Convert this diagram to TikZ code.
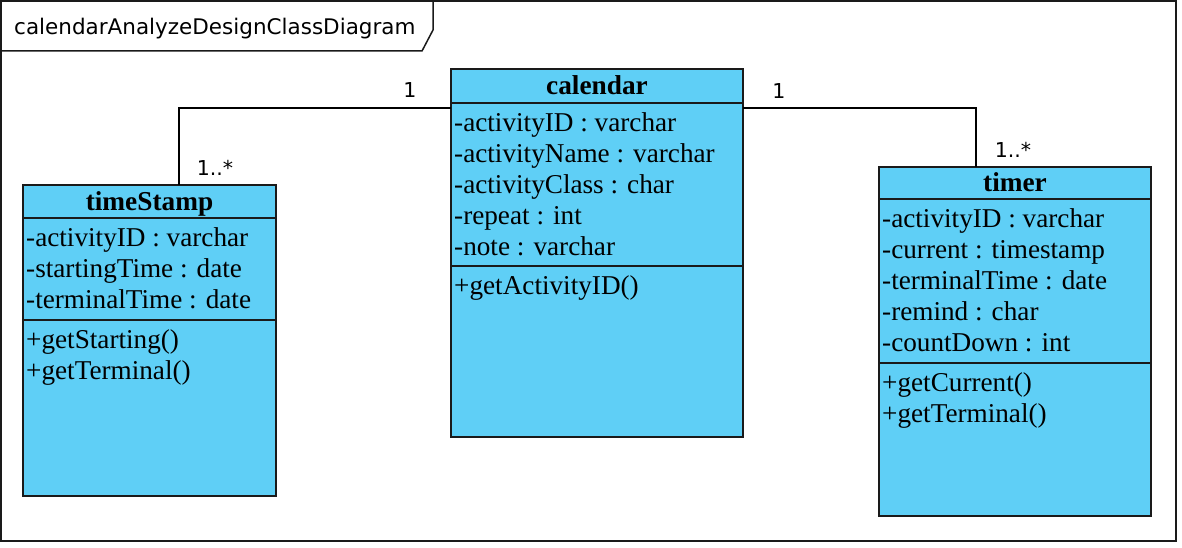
\documentclass[tikz,border=0pt]{standalone}
\usepackage{fontspec}
\setmainfont{Liberation Serif}
\setsansfont{DejaVu Sans}
\usetikzlibrary{positioning}
\definecolor{c_blue}{HTML}{5FCFF6}
\definecolor{c_line}{HTML}{1A1A1A}
\tikzstyle{head} = [rectangle, draw=c_line, fill=c_blue, line width=1.5pt,
	inner sep=0pt, outer sep=0pt, text height=18pt, text depth=0pt,
	font=\fontsize{27.3}{31}\selectfont\bfseries]
\tikzstyle{part} = [rectangle, draw=c_line, fill=c_blue, line width=1.5pt, inner sep=0pt, outer sep=0pt]
\tikzstyle{members} = [anchor=north west, inner xsep=3pt, inner ysep=6.3pt,
	font=\fontsize{27.2}{31}\selectfont]
\tikzstyle{mult} = [font=\sffamily\fontsize{20.5}{24}\selectfont]
\tikzstyle{assoc} = [draw=black, line width=2pt]

\begin{document}
\begin{tikzpicture}[x=1pt, y=-1pt]
	\useasboundingbox (0,0) rectangle (1182,548);
	% frame
	\draw[line width=2pt, draw=c_line] (1,1) rectangle (1176,541);
	\draw[line width=1.5pt, draw=c_line] (1,51) -- (422,51) -- (433,30) -- (433,1);
	\node[anchor=west, inner sep=0pt, font=\sffamily\fontsize{21.5}{25}\selectfont] (frameTitle) at (14,29) {calendarAnalyzeDesignClassDiagram};

	% calendar
	\node[head, minimum width=292pt, minimum height=34pt] (calendar) at (597,86) {calendar};
	\node[part, minimum width=292pt, minimum height=163pt, below=0pt of calendar] (calendarAttr) {};
	\node[part, minimum width=292pt, minimum height=171pt, below=0pt of calendarAttr] (calendarOp) {};
	\node[members] at (calendarAttr.north west) {
		\begin{tabular}{@{}l@{}}
			-activityID : varchar \\
			-activityName : varchar \\
			-activityClass : char \\
			-repeat : int \\
			-note : varchar
		\end{tabular}
	};
	\node[members] at (calendarOp.north west) {
		\begin{tabular}{@{}l@{}}
			+getActivityID()
		\end{tabular}
	};

	% timeStamp
	\node[head, minimum width=253pt, minimum height=33pt] (timeStamp) at (149.5,201.5) {timeStamp};
	\node[part, minimum width=253pt, minimum height=102pt, below=0pt of timeStamp] (timeStampAttr) {};
	\node[part, minimum width=253pt, minimum height=176pt, below=0pt of timeStampAttr] (timeStampOp) {};
	\node[members] at (timeStampAttr.north west) {
		\begin{tabular}{@{}l@{}}
			-activityID : varchar \\
			-startingTime : date \\
			-terminalTime : date
		\end{tabular}
	};
	\node[members] at (timeStampOp.north west) {
		\begin{tabular}{@{}l@{}}
			+getStarting() \\
			+getTerminal()
		\end{tabular}
	};

	% timer
	\node[head, minimum width=272pt, minimum height=32pt] (timer) at (1015,183) {timer};
	\node[part, minimum width=272pt, minimum height=164pt, below=0pt of timer] (timerAttr) {};
	\node[part, minimum width=272pt, minimum height=153pt, below=0pt of timerAttr] (timerOp) {};
	\node[members] at (timerAttr.north west) {
		\begin{tabular}{@{}l@{}}
			-activityID : varchar \\
			-current : timestamp \\
			-terminalTime : date \\
			-remind : char \\
			-countDown : int
		\end{tabular}
	};
	\node[members] at (timerOp.north west) {
		\begin{tabular}{@{}l@{}}
			+getCurrent() \\
			+getTerminal()
		\end{tabular}
	};

	% associations
	\draw[assoc] (calendarAttr.north west) ++(0,5) -| ([xshift=29.5pt]timeStamp.north);
	\draw[assoc] (calendarAttr.north east) ++(0,5) -| ([xshift=-39pt]timer.north);
	\node[mult] (calendarLeftOne) at (410,90) {1};
	\node[mult] (timeStampMany) at (215,168) {1..*};
	\node[mult] (calendarRightOne) at (779,91) {1};
	\node[mult] (timerMany) at (1013,150) {1..*};
\end{tikzpicture}
\end{document}
